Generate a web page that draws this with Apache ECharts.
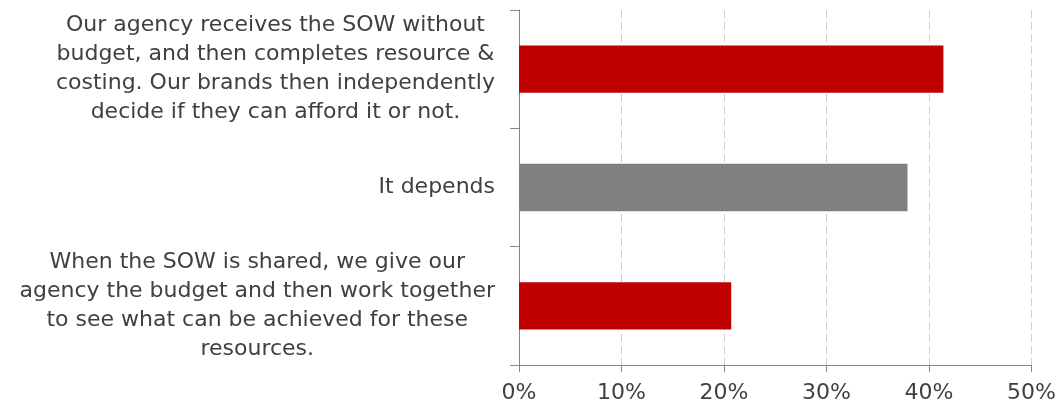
<!DOCTYPE html>
<html>
<head>
<meta charset="utf-8">
<script src="https://cdn.jsdelivr.net/npm/echarts@6/dist/echarts.min.js"></script>
<style>
	html, body { margin: 0; padding: 0; background: #fff; }
	#chart { width: 1059px; height: 405px; }
</style>
</head>
<body>
<div id="chart"></div>
<script>
	// answers, top to bottom
	var categories = [
		'Our agency receives the SOW without\nbudget, and then completes resource &\ncosting. Our brands then independently\ndecide if they can afford it or not.',
		'It depends',
		'When the SOW is shared, we give our\nagency the budget and then work together\nto see what can be achieved for these\nresources.'
	];
	var values = [41.4, 37.9, 20.7];
	var barColors = ['#C00000', '#808080', '#C00000'];
	var xTicks = [0, 10, 20, 30, 40, 50];

	var myChart = echarts.init(document.getElementById('chart'));

	var option = {
		animation: false,
		textStyle: {
			fontFamily: 'DejaVu Sans'
		},
		grid: {
			left: 519,
			right: 27,
			top: 10,
			bottom: 40
		},
		xAxis: {
			type: 'value',
			min: xTicks[0],
			max: xTicks[xTicks.length - 1],
			interval: 10,
			axisLine: {
				show: true,
				lineStyle: { color: '#868686', width: 1 }
			},
			axisTick: {
				show: true,
				length: 7,
				lineStyle: { color: '#868686' }
			},
			axisLabel: {
				color: '#404040',
				fontSize: 22,
				margin: 17,
				formatter: function (v) {
					return v + '%';
				}
			},
			splitLine: {
				show: true,
				lineStyle: { color: '#d0d0d0', type: [8, 4], width: 1 }
			}
		},
		yAxis: {
			type: 'category',
			inverse: true,
			data: categories,
			axisLine: {
				show: true,
				lineStyle: { color: '#868686', width: 1 }
			},
			axisTick: {
				show: true,
				length: 9,
				lineStyle: { color: '#868686' }
			},
			axisLabel: {
				color: '#404040',
				fontSize: 22,
				lineHeight: 29,
				margin: 24,
				formatter: function (v) {
					return v.split('\n').map(function (line) {
						return '{c|' + line + '}';
					}).join('\n');
				},
				rich: {
					c: {
						align: 'center',
						color: '#404040',
						fontSize: 22,
						lineHeight: 29,
						fontFamily: 'DejaVu Sans'
					}
				}
			}
		},
		series: [
			{
				type: 'bar',
				barWidth: '40%',
				data: values.map(function (v, i) {
					return {
						value: v,
						itemStyle: { color: barColors[i] }
					};
				})
			}
		]
	};

	myChart.setOption(option);
</script>
</body>
</html>
